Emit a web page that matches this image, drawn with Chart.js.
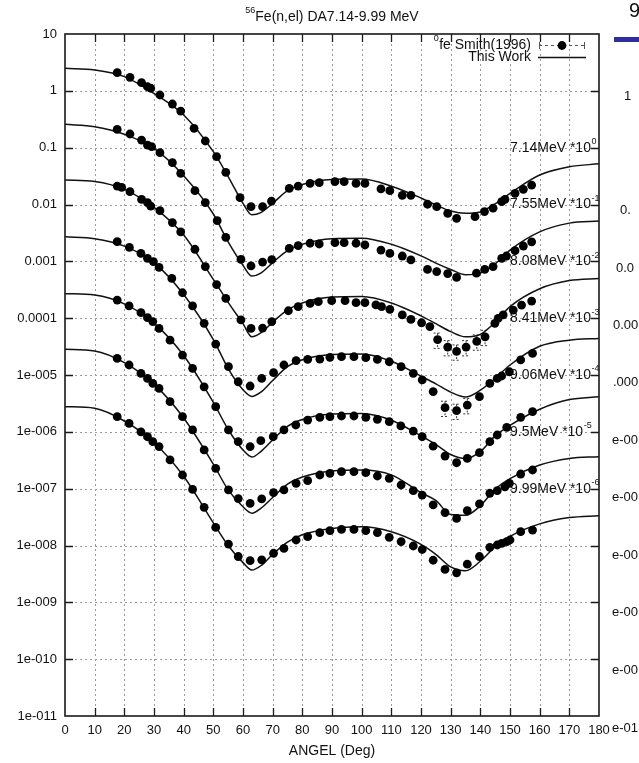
<!DOCTYPE html>
<html><head><meta charset="utf-8">
<script src="https://cdn.jsdelivr.net/npm/chart.js@4"></script>
<style>html,body{margin:0;padding:0;background:#fff}</style>
</head><body>
<canvas id="c" width="639" height="763"></canvas>
<script>
// ---------------- data ----------------
const chartTitleSup = '56';
const chartTitleMain = 'Fe(n,el) DA7.14-9.99 MeV';
const xAxisTitle = 'ANGEL (Deg)';
const legendPointsSup = '0';
const legendPointsText = 'fe Smith(1996)';
const legendCurveText = 'This Work';

const yTickValues = [10,1,0.1,0.01,0.001,0.0001,1e-5,1e-6,1e-7,1e-8,1e-9,1e-10,1e-11];
const yTickLabels = ['10','1','0.1','0.01','0.001','0.0001','1e-005','1e-006','1e-007','1e-008','1e-009','1e-010','1e-011'];

const seriesLabelTexts = ['7.14MeV *10','7.55MeV *10','8.08MeV *10','8.41MeV *10','9.06MeV *10','9.5MeV *10','9.99MeV *10'];
const seriesLabelExps  = ['0','-1','-2','-3','-4','-5','-6'];
const seriesLabelAnchors = [1e-1,1e-2,1e-3,1e-4,1e-5,1e-6,1e-7];

// Smith(1996) measured points
const ang1 = [17.6,21.9,25.8,27.8,28.9,32.0,36.2,39.0,43.5,47.3,51.1,54.2,59.0,62.7,66.6,69.6,75.6,78.6,82.6,85.7,91.0,94.1,98.1,101.1,106.5,109.5,113.7,116.6,122.2,125.3,129.0,132.0,138.2,141.4,144.3,147.2,148.3,151.7,154.5,157.3];
const val1 = [2.09,1.73,1.39,1.18,1.11,0.845,0.586,0.441,0.219,0.131,0.0695,0.0368,0.0132,0.00916,0.00916,0.0115,0.0192,0.0211,0.0235,0.0242,0.0252,0.0252,0.0235,0.0235,0.0188,0.0175,0.0145,0.0145,0.0101,0.00914,0.0070,0.0057,0.0061,0.0075,0.0086,0.0112,0.0123,0.0157,0.0185,0.022];

const ang2 = [17.6,21.9,25.8,27.8,29.2,32.0,36.2,39.0,43.8,47.3,51.3,54.2,59.3,62.7,66.6,69.7,75.6,78.6,82.6,85.7,91.0,94.1,98.1,101.1,106.5,109.5,113.7,116.6,122.2,125.3,129.0,132.0,138.7,141.5,144.3,147.2,148.8,151.7,154.5,157.3];
const val2 = [0.21,0.174,0.136,0.111,0.104,0.0817,0.0545,0.0353,0.0175,0.0108,0.0052,0.00264,0.00108,0.00083,0.00097,0.00107,0.00169,0.00189,0.00208,0.00202,0.00213,0.00213,0.00208,0.00194,0.00158,0.00138,0.00124,0.00106,0.00072,0.00066,0.00061,0.00052,0.00062,0.00072,0.00081,0.00113,0.00124,0.00154,0.00186,0.0022];

const ang3 = [17.6,19.1,21.9,25.8,27.8,28.9,32.0,36.2,39.0,43.8,47.3,51.1,54.2,59.3,62.7,66.6,69.7,75.3,78.6,82.6,85.4,89.9,94.4,98.1,101.1,104.8,106.7,109.5,113.7,116.6,120.2,123.0,125.6,129.0,132.0,135.2,138.8,141.6,144.9,146.0,147.7,151.1,153.9,157.3];
const val3 = [0.0211,0.020,0.0168,0.0123,0.0108,0.0094,0.0078,0.0048,0.0033,0.00163,0.00081,0.00039,0.000223,0.000093,0.000066,0.000067,0.000087,0.000135,0.000159,0.000182,0.000195,0.000203,0.000203,0.000187,0.000187,0.000171,0.000159,0.000143,0.000114,0.000095,0.000083,0.000071,0.000042,0.000031,0.000026,0.000031,0.000039,0.000047,0.000081,0.000099,0.000114,0.000139,0.00017,0.0002];
const err3 = [0,0,0,0,0,0,0,0,0,0,0,0,0,0,0,0,0,0,0,0,0,0,0,0,0,0,0,0,0,0,0,0,0.3,0.3,0.3,0.3,0.3,0.3,0,0,0,0,0,0];

const ang4 = [17.6,21.7,25.6,27.8,29.8,31.7,36.0,39.6,43.0,46.9,50.8,55.1,58.4,62.4,66.3,70.3,73.8,77.9,81.8,85.9,89.3,93.2,97.4,101.4,105.3,109.3,113.3,117.4,120.4,124.1,128.1,132.0,135.6,139.7,143.2,145.7,147.2,149.8,153.6,157.6];
const val4 = [0.00222,0.00176,0.00138,0.00113,0.00099,0.00078,0.0005,0.00028,0.000164,0.000081,3.5e-5,1.4e-5,7.6e-6,6.4e-6,8.7e-6,1.1e-5,1.5e-5,1.79e-5,1.88e-5,1.91e-5,2.05e-5,2.1e-5,2.1e-5,2.02e-5,1.88e-5,1.71e-5,1.4e-5,1.07e-5,8.2e-6,5.1e-6,2.66e-6,2.36e-6,2.96e-6,4.15e-6,7.1e-6,8.7e-6,9.6e-6,1.14e-5,1.84e-5,2.4e-5];
const err4 = [0,0,0,0,0,0,0,0,0,0,0,0,0,0,0,0,0,0,0,0,0,0,0,0,0,0,0,0,0,0,0.3,0.3,0.3,0,0,0,0,0,0,0];

const ang5 = [17.6,21.6,25.6,27.8,29.6,31.7,35.4,39.6,43.0,46.9,50.8,55.1,58.4,62.4,66.0,70.2,73.8,77.8,81.8,85.9,89.3,93.2,97.4,101.4,105.3,109.3,113.2,117.4,120.4,124.1,128.1,132.0,135.6,139.7,143.2,145.7,148.9,153.6,157.6];
const val5 = [2.08e-4,1.64e-4,1.25e-4,1.02e-4,8.7e-5,6.6e-5,4.1e-5,2.24e-5,1.31e-5,6.2e-6,2.77e-6,1.08e-6,6.7e-7,5.5e-7,7.0e-7,8.2e-7,1.08e-6,1.32e-6,1.61e-6,1.8e-6,1.85e-6,1.9e-6,1.9e-6,1.8e-6,1.66e-6,1.51e-6,1.27e-6,1.03e-6,8.2e-7,5.6e-7,3.75e-7,2.86e-7,3.4e-7,4.3e-7,6.7e-7,8.8e-7,1.2e-6,1.8e-6,2.26e-6];

const ang6 = [17.6,21.6,25.6,27.8,29.6,31.7,35.4,39.6,43.0,46.9,50.8,55.1,58.4,62.4,66.3,70.3,73.8,77.9,81.8,85.9,89.3,93.2,97.4,101.4,105.3,109.3,113.3,117.4,120.4,124.1,128.1,132.0,135.6,139.7,143.2,145.7,148.3,149.8,153.6,157.6];
const val6 = [1.96e-5,1.5e-5,1.07e-5,8.7e-6,7.1e-6,5.8e-6,3.4e-6,1.85e-6,1.08e-6,4.8e-7,2.28e-7,9.5e-8,6.7e-8,5.5e-8,6.6e-8,8.5e-8,9.5e-8,1.24e-7,1.38e-7,1.74e-7,1.86e-7,1.99e-7,1.99e-7,1.91e-7,1.67e-7,1.52e-7,1.16e-7,9.2e-8,7.7e-8,5.2e-8,3.8e-8,3.0e-8,4.1e-8,5.4e-8,8.3e-8,9.2e-8,1.08e-7,1.24e-7,1.81e-7,2.13e-7];

const ang7 = [17.6,21.6,25.6,27.8,29.6,31.7,35.4,39.6,43.0,46.9,50.8,55.1,58.4,62.4,66.3,70.3,73.8,77.9,81.8,85.9,89.3,93.2,97.4,101.4,105.3,109.3,113.3,117.4,120.4,124.1,128.1,132.0,135.6,139.7,143.2,145.7,147.2,148.9,150.0,153.6,157.6];
const val7 = [1.85e-6,1.41e-6,1.0e-6,8.2e-7,6.7e-7,5.5e-7,3.2e-7,1.74e-7,9.7e-8,4.7e-8,2.08e-8,1.06e-8,6.4e-9,5.4e-9,5.6e-9,7.3e-9,8.9e-9,1.25e-8,1.43e-8,1.68e-8,1.82e-8,1.92e-8,1.92e-8,1.82e-8,1.68e-8,1.39e-8,1.17e-8,9.8e-9,8.5e-9,5.5e-9,3.8e-9,3.3e-9,4.7e-9,6.4e-9,9.3e-9,1.02e-8,1.09e-8,1.17e-8,1.25e-8,1.75e-8,1.87e-8];

// "This Work" calculated curves
const curveAng = [0,10,20,30,40,50,55,60,63,66,70,75,80,90,100,110,120,125,130,135,140,145,150,160,170,180];
const curve1 = [2.49,2.33,1.78,0.90,0.376,0.085,0.031,0.0105,0.0066,0.0072,0.0105,0.0175,0.0225,0.0275,0.028,0.021,0.013,0.0098,0.0077,0.0070,0.0074,0.0103,0.0157,0.033,0.046,0.052];
const curve2 = [0.258,0.234,0.172,0.097,0.032,0.0068,0.0022,0.00085,0.00055,0.00062,0.00095,0.00155,0.0020,0.0025,0.00255,0.0020,0.00125,0.00093,0.00072,0.00058,0.00062,0.00090,0.00158,0.0033,0.0047,0.0051];
const curve3 = [0.027,0.0255,0.0185,0.0089,0.0029,0.00048,0.00019,0.00008,0.000047,0.000055,0.000085,0.00014,0.000185,0.000235,0.00024,0.000185,0.00011,0.00008,0.000058,0.000047,0.000052,0.000085,0.00016,0.00033,0.00046,0.0005];
const curve4 = [0.0027,0.0025,0.00185,0.00095,0.00026,0.000042,0.000013,0.0000055,0.0000042,0.000005,0.000008,0.000014,0.0000185,0.000023,0.0000235,0.0000175,0.0000095,0.000007,0.000005,0.0000041,0.0000054,0.0000087,0.000015,0.000032,0.000041,0.000044];
const curve5 = [2.7e-4,2.55e-4,1.78e-4,8.2e-5,2.2e-5,3.3e-6,1.1e-6,4.8e-7,3.6e-7,4.5e-7,7.2e-7,1.25e-6,1.65e-6,2.05e-6,2.1e-6,1.6e-6,8.5e-7,6.0e-7,4.0e-7,3.4e-7,4.5e-7,8.5e-7,1.3e-6,2.5e-6,3.7e-6,4.15e-6];
const curve6 = [2.83e-5,2.65e-5,1.65e-5,6.9e-6,1.75e-6,2.7e-7,9.5e-8,4.8e-8,3.7e-8,4.5e-8,7.0e-8,1.2e-7,1.6e-7,2.05e-7,2.13e-7,1.75e-7,8.5e-8,6.2e-8,3.5e-8,3.4e-8,5.0e-8,9.8e-8,1.5e-7,2.6e-7,3.4e-7,3.65e-7];
const curve7 = [2.77e-6,2.6e-6,1.55e-6,6.5e-7,1.65e-7,2.5e-8,1.0e-8,5.0e-9,3.7e-9,4.4e-9,7.0e-9,1.15e-8,1.55e-8,2.0e-8,2.14e-8,1.75e-8,1.05e-8,7.0e-9,4.2e-9,3.6e-9,5.3e-9,9.5e-9,1.45e-8,2.4e-8,3.1e-8,3.35e-8];

// neighbouring (cut-off) chart at the right edge
const stripLabels = ['1','0.','0.0','0.00','.000','e-00','e-00','e-00','e-00','e-00','e-01'];

// ---------------- chart ----------------
const FONT = "'Liberation Sans', Arial, Helvetica, sans-serif";
const pointSeries = [
  {ang:ang1,val:val1,err:null},{ang:ang2,val:val2,err:null},{ang:ang3,val:val3,err:err3},
  {ang:ang4,val:val4,err:err4},{ang:ang5,val:val5,err:null},{ang:ang6,val:val6,err:null},{ang:ang7,val:val7,err:null}
];
const curves = [curve1,curve2,curve3,curve4,curve5,curve6,curve7];

const datasets = [];
curves.forEach(c => datasets.push({
  data: curveAng.map((a,j)=>({x:a,y:c[j]})),
  borderColor:'#111', borderWidth:1.5, pointRadius:0, fill:false,
  cubicInterpolationMode:'monotone', order:2
}));
pointSeries.forEach(s => datasets.push({
  data: s.ang.map((a,j)=>({x:a,y:s.val[j]})),
  showLine:false, pointRadius:4.4, pointHoverRadius:4.4,
  pointBackgroundColor:'#000', pointBorderColor:'#000', pointBorderWidth:0, order:1
}));

const overlay = {
  id:'overlay',
  beforeDatasetsDraw(chart){
    const {ctx, chartArea:a, scales:{x,y}} = chart;
    ctx.save();
    ctx.strokeStyle = '#9a9a9a'; ctx.lineWidth = 1; ctx.setLineDash([2,3]);
    for (let v=10; v<180; v+=10){
      const px = Math.round(x.getPixelForValue(v))+0.5;
      ctx.beginPath(); ctx.moveTo(px,a.top); ctx.lineTo(px,a.bottom); ctx.stroke();
    }
    yTickValues.forEach(v=>{
      if (v===10 || v===1e-11) return;
      const py = Math.round(y.getPixelForValue(v))+0.5;
      ctx.beginPath(); ctx.moveTo(a.left,py); ctx.lineTo(a.right,py); ctx.stroke();
    });
    // error bars
    ctx.strokeStyle = '#333'; ctx.setLineDash([2,2]);
    pointSeries.forEach(s=>{
      if(!s.err) return;
      s.ang.forEach((ang,j)=>{
        const e = s.err[j]; if(!e) return;
        const px = x.getPixelForValue(ang);
        const y1 = y.getPixelForValue(s.val[j]*(1+e)), y2 = y.getPixelForValue(s.val[j]*(1-e));
        ctx.beginPath(); ctx.moveTo(px,y1); ctx.lineTo(px,y2); ctx.stroke();
        ctx.beginPath(); ctx.moveTo(px-4,y1); ctx.lineTo(px+4,y1); ctx.moveTo(px-4,y2); ctx.lineTo(px+4,y2); ctx.stroke();
      });
    });
    ctx.restore();
  },
  afterDatasetsDraw(chart){
    const {ctx, chartArea:a, scales:{x,y}} = chart;
    ctx.save();
    ctx.fillStyle = '#111';
    // series labels
    seriesLabelTexts.forEach((t,k)=>{
      const py = y.getPixelForValue(seriesLabelAnchors[k]);
      ctx.font = '14px '+FONT; ctx.textAlign='left'; ctx.textBaseline='middle';
      const lx = x.getPixelForValue(150);
      ctx.fillText(t, lx, py);
      const w = ctx.measureText(t).width;
      ctx.font = '9px '+FONT;
      ctx.fillText(seriesLabelExps[k], lx+w+0.5, py-6);
    });
    // frame
    ctx.strokeStyle = '#1a1a1a'; ctx.lineWidth = 1.6; ctx.setLineDash([]);
    ctx.strokeRect(a.left, a.top, a.right-a.left, a.bottom-a.top);
    // inward ticks
    ctx.lineWidth = 1.3;
    for (let v=10; v<180; v+=10){
      const px = Math.round(x.getPixelForValue(v))+0.5;
      ctx.beginPath(); ctx.moveTo(px,a.bottom); ctx.lineTo(px,a.bottom-8);
      ctx.moveTo(px,a.top); ctx.lineTo(px,a.top+8); ctx.stroke();
    }
    yTickValues.forEach(v=>{
      if (v===10 || v===1e-11) return;
      const py = Math.round(y.getPixelForValue(v))+0.5;
      ctx.beginPath(); ctx.moveTo(a.left,py); ctx.lineTo(a.left+8,py);
      ctx.moveTo(a.right,py); ctx.lineTo(a.right-8,py); ctx.stroke();
    });
    // legend
    const lx = 531, ly1 = 45, ly2 = 57;
    ctx.font = '14px '+FONT; ctx.textAlign='right'; ctx.textBaseline='middle';
    ctx.fillText(legendPointsText, lx, ly1);
    const w1 = ctx.measureText(legendPointsText).width;
    ctx.font = '9px '+FONT; ctx.fillText(legendPointsSup, lx-w1-0.5, ly1-6);
    ctx.font = '14px '+FONT; ctx.fillText(legendCurveText, lx, ly2);
    ctx.strokeStyle='#555'; ctx.lineWidth=1; ctx.setLineDash([3,3]);
    ctx.beginPath(); ctx.moveTo(539,ly1+0.5); ctx.lineTo(585,ly1+0.5); ctx.stroke();
    ctx.setLineDash([]);
    ctx.beginPath(); ctx.moveTo(539.5,ly1-3); ctx.lineTo(539.5,ly1+4); ctx.moveTo(584.5,ly1-3); ctx.lineTo(584.5,ly1+4); ctx.stroke();
    ctx.fillStyle='#000'; ctx.beginPath(); ctx.arc(562,ly1+0.5,4.4,0,Math.PI*2); ctx.fill();
    ctx.strokeStyle='#111'; ctx.lineWidth=1.5;
    ctx.beginPath(); ctx.moveTo(538,ly2+0.5); ctx.lineTo(586,ly2+0.5); ctx.stroke();
    // title
    ctx.fillStyle='#111'; ctx.textBaseline='middle';
    ctx.font = '14px '+FONT;
    const tw = ctx.measureText(chartTitleMain).width;
    ctx.font = '9px '+FONT;
    const sw = ctx.measureText(chartTitleSup).width;
    const cx = (a.left+a.right)/2, tx0 = cx - (tw+sw)/2;
    ctx.textAlign='left';
    ctx.fillText(chartTitleSup, tx0, 11);
    ctx.font = '14px '+FONT; ctx.fillText(chartTitleMain, tx0+sw, 17);
    // x-axis title
    ctx.textAlign='center'; ctx.font = '14px '+FONT;
    ctx.fillText(xAxisTitle, cx, 751);
    // neighbouring chart fragment
    ctx.textAlign='left'; ctx.font='20px '+FONT; ctx.fillText('9', 629, 11);
    ctx.fillStyle='#2e2e9c'; ctx.fillRect(614,37,25,5);
    ctx.fillStyle='#111'; ctx.font='13px '+FONT;
    const stripX = [624,620,616,613,613,612,612,612,612,612,612];
    const stripY = [96,210,268,325,382,440,497,555,612,670,728];
    stripLabels.forEach((t,i)=>ctx.fillText(t, stripX[i], stripY[i]));
    ctx.restore();
  }
};

new Chart(document.getElementById('c'), {
  type:'line',
  data:{datasets},
  options:{
    responsive:false, animation:false, devicePixelRatio:1,
    layout:{padding:{top:34,right:40,left:0,bottom:0}},
    plugins:{legend:{display:false}, tooltip:{enabled:false}, title:{display:false}},
    elements:{line:{tension:0}},
    scales:{
      x:{type:'linear', min:0, max:180,
        ticks:{stepSize:10, autoSkip:false, maxRotation:0, color:'#111', padding:7, font:{family:FONT,size:13}},
        grid:{display:false, drawTicks:false}, border:{display:false},
        afterFit(s){ s.height = 47; }
      },
      y:{type:'logarithmic', min:1e-11, max:10,
        afterBuildTicks(s){ s.ticks = yTickValues.map(v=>({value:v})); },
        ticks:{autoSkip:false, color:'#111', padding:8, font:{family:FONT,size:13},
          callback:(v)=>{ const i = yTickValues.findIndex(t=>Math.abs(Math.log10(t)-Math.log10(v))<1e-6); return i>=0?yTickLabels[i]:''; }},
        grid:{display:false, drawTicks:false}, border:{display:false},
        afterFit(s){ s.width = 65; }
      }
    }
  },
  plugins:[overlay]
});
</script>
</body></html>
